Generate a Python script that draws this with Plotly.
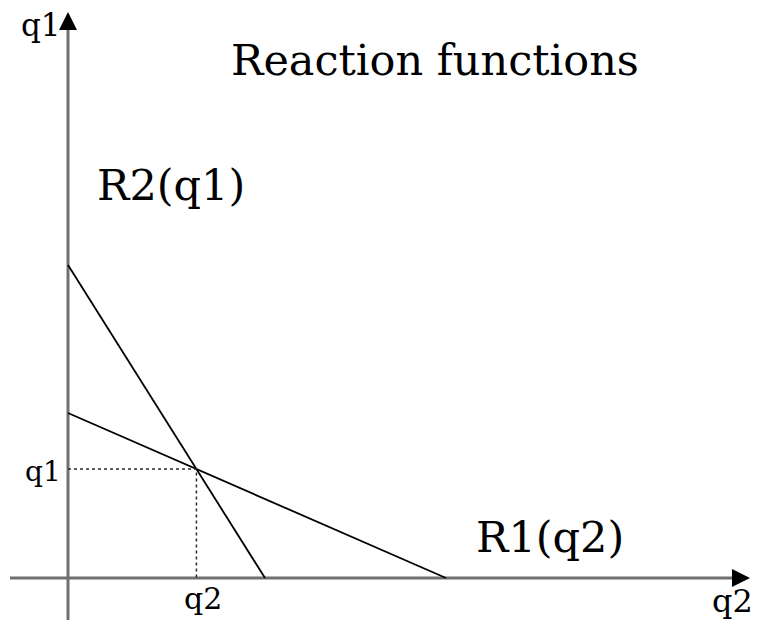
import plotly.graph_objects as go

# Reaction functions (data units = pixels from origin)
r2_q1_intercept = 313   # R2(q1): q1 intercept
r2_q2_intercept = 197   # R2(q1): q2 intercept
r1_q1_intercept = 165   # R1(q2): q1 intercept
r1_q2_intercept = 378   # R1(q2): q2 intercept

r2_x = [0, r2_q2_intercept]
r2_y = [r2_q1_intercept, 0]
r1_x = [0, r1_q2_intercept]
r1_y = [r1_q1_intercept, 0]

# equilibrium
a1, b1 = r1_q1_intercept, r1_q1_intercept / r1_q2_intercept
a2, b2 = r2_q1_intercept, r2_q1_intercept / r2_q2_intercept
eq_x = (a2 - a1) / (b2 - b1)
eq_y = a1 - b1 * eq_x

FONT = "DejaVu Serif"
fig = go.Figure()
fig.add_trace(go.Scatter(x=r2_x, y=r2_y, mode="lines", line=dict(color="black", width=1.8), hoverinfo="skip"))
fig.add_trace(go.Scatter(x=r1_x, y=r1_y, mode="lines", line=dict(color="black", width=1.8), hoverinfo="skip"))
fig.add_trace(go.Scatter(x=[0, eq_x, eq_x], y=[eq_y, eq_y, 0], mode="lines",
                         line=dict(color="#2a2a2a", width=1.5, dash="dot"), hoverinfo="skip"))

shapes = [
    dict(type="line", x0=-58, x1=668, y0=0, y1=0, line=dict(color="#707070", width=3), layer="below"),
    dict(type="line", x0=0, x1=0, y0=-50, y1=552, line=dict(color="#707070", width=3), layer="below"),
    dict(type="path", path="M 682 0 L 664 9 L 664 -9 Z", fillcolor="black", line=dict(width=0)),
    dict(type="path", path="M 0 566 L -9 548 L 9 548 Z", fillcolor="black", line=dict(width=0)),
]

def txt(x, y, s, size, xanchor="center"):
    return dict(x=x, y=y, text=s, showarrow=False, xanchor=xanchor, yanchor="middle",
                font=dict(family=FONT, size=size, color="black"))

annotations = [
    txt(367, 518, "Reaction functions", 43),
    txt(103, 393, "R2(q1)", 43),
    txt(482, 41, "R1(q2)", 43),
    txt(-27, 553, "q1", 31),
    txt(-5, eq_y - 2, "q1", 28, xanchor="right"),
    txt(eq_x + 7, -20, "q2", 30),
    txt(664, -23, "q2", 32),
]

fig.update_layout(
    width=757, height=620,
    margin=dict(l=0, r=0, t=0, b=0),
    paper_bgcolor="white", plot_bgcolor="white",
    showlegend=False,
    xaxis=dict(range=[-68, 689], visible=False, fixedrange=True),
    yaxis=dict(range=[-42, 578], visible=False, fixedrange=True),
    shapes=shapes, annotations=annotations,
)
fig.write_html("out.html", config={"displayModeBar": False},
               post_script="document.body.style.margin='0';document.body.style.overflow='hidden';")
